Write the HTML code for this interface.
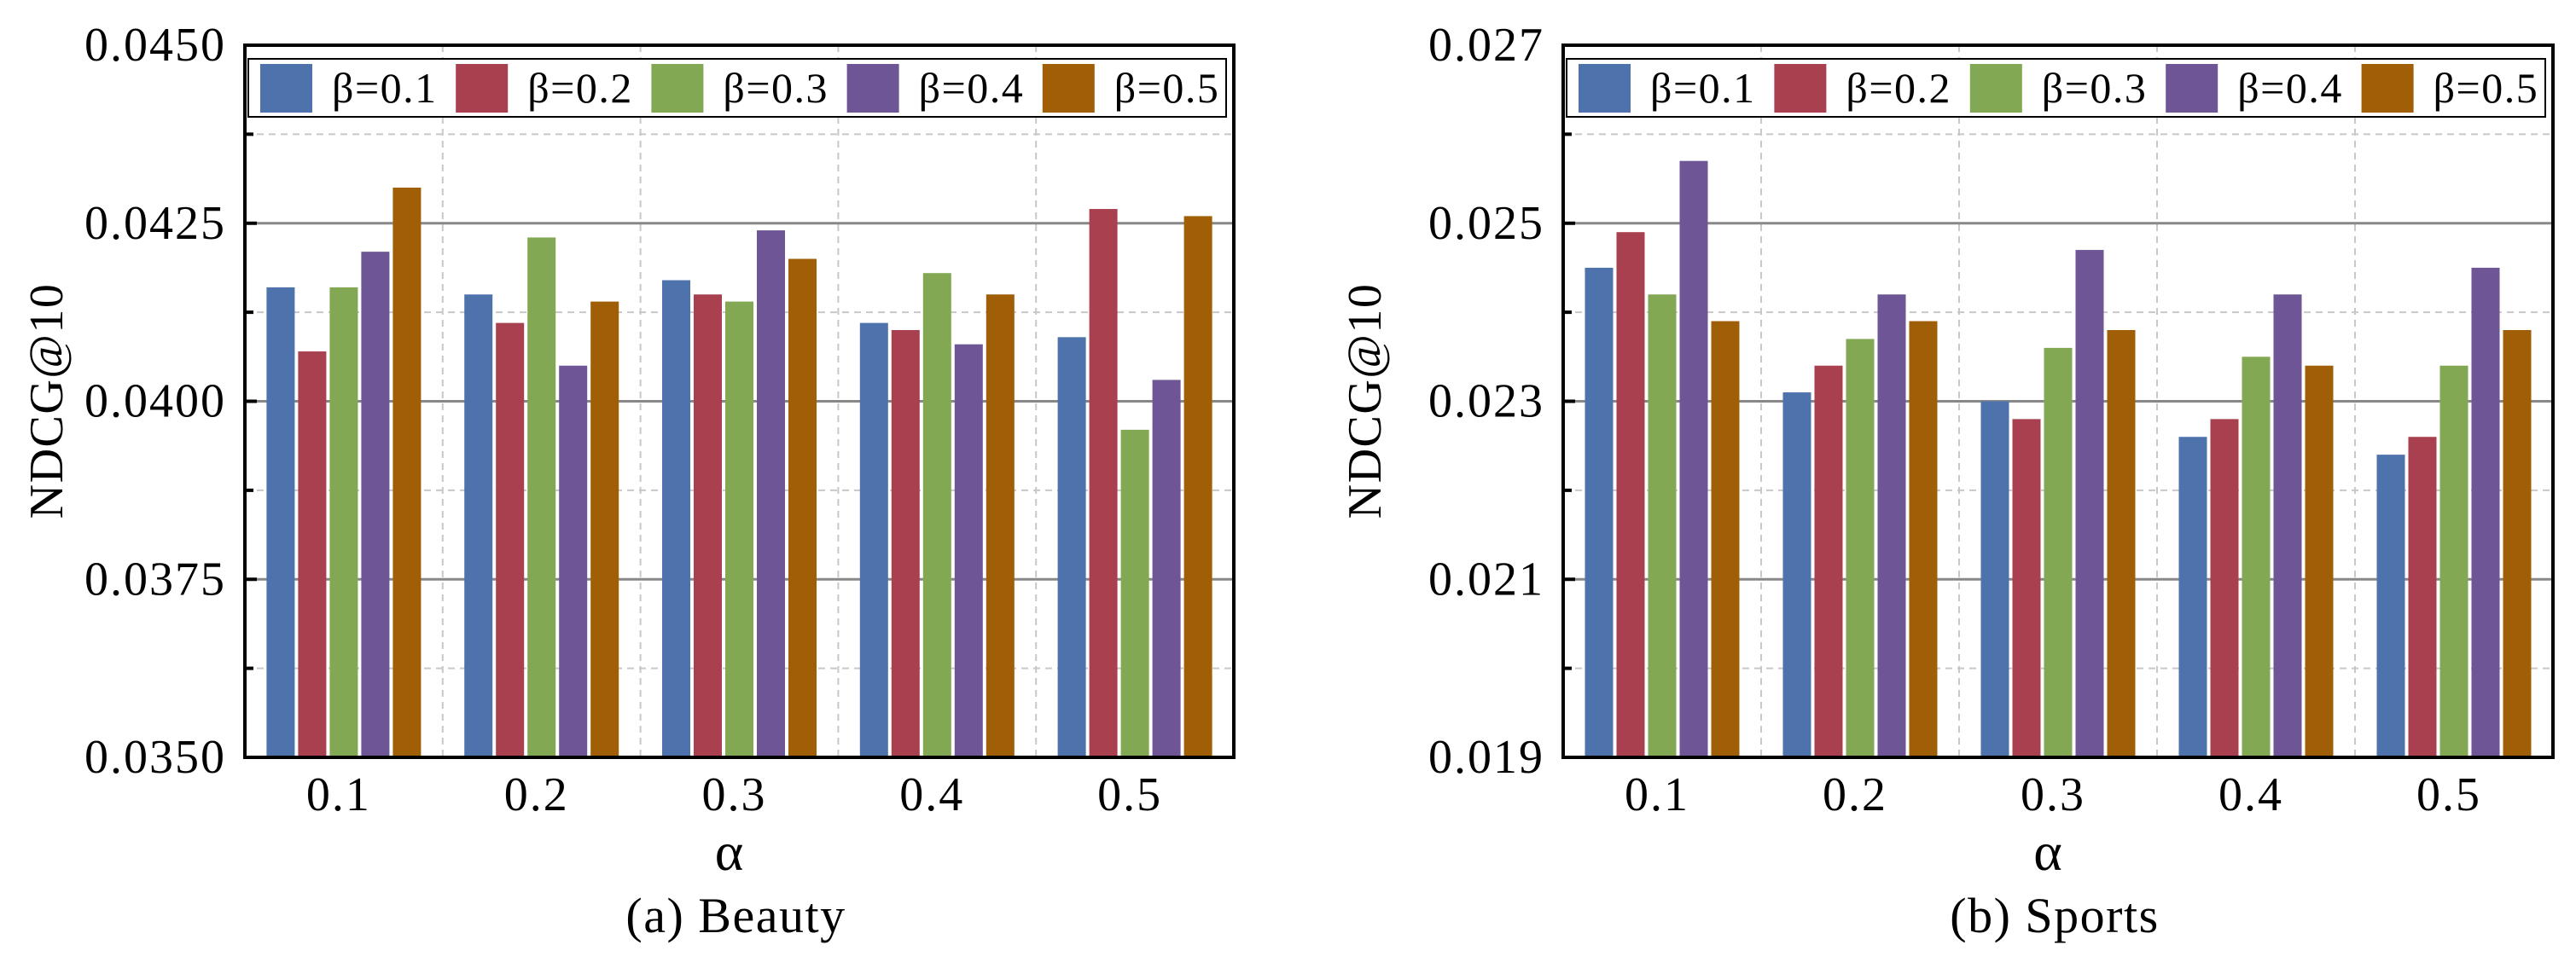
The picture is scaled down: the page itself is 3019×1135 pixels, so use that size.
<!DOCTYPE html>
<html><head><meta charset="utf-8"><style>
html,body{margin:0;padding:0;background:#fff;}
svg{display:block;font-family:"Liberation Serif",serif;}
</style></head><body>
<svg id="root" width="3019" height="1135" viewBox="0 0 3019 1135" xmlns="http://www.w3.org/2000/svg"></svg>
<script>
const categories = ["0.1","0.2","0.3","0.4","0.5"];
const seriesNames = ["β=0.1","β=0.2","β=0.3","β=0.4","β=0.5"];
const beautyB1 = [0.0416,0.0415,0.0417,0.0411,0.0409];
const beautyB2 = [0.0407,0.0411,0.0415,0.0410,0.0427];
const beautyB3 = [0.0416,0.0423,0.0414,0.0418,0.0396];
const beautyB4 = [0.0421,0.0405,0.0424,0.0408,0.0403];
const beautyB5 = [0.0430,0.0414,0.0420,0.0415,0.0426];
const sportsB1 = [0.0245,0.0231,0.0230,0.0226,0.0224];
const sportsB2 = [0.0249,0.0234,0.0228,0.0228,0.0226];
const sportsB3 = [0.0242,0.0237,0.0236,0.0235,0.0234];
const sportsB4 = [0.0257,0.0242,0.0247,0.0242,0.0245];
const sportsB5 = [0.0239,0.0239,0.0238,0.0234,0.0238];
const beautyTicks = ["0.0350","0.0375","0.0400","0.0425","0.0450"];
const sportsTicks = ["0.019","0.021","0.023","0.025","0.027"];
const colors = ["#4e72ab","#a9404f","#82a853","#6e5595","#a05f06"];
const NS="http://www.w3.org/2000/svg";
const root=document.getElementById('root');
function mk(tag,attrs,parent){const e=document.createElementNS(NS,tag);for(const k in attrs)e.setAttribute(k,attrs[k]);(parent||root).appendChild(e);return e;}

function drawChart(cfg){
  const g=mk('g',{});
  
  
  const L=cfg.left,R=cfg.right,T=53,B=888;
  const ymin=parseFloat(cfg.ticks[0]),ymax=parseFloat(cfg.ticks[cfg.ticks.length-1]);
  const y=v=>B-(v-ymin)/(ymax-ymin)*(B-T);
  const gw=(R-L)/categories.length;
  const xc=i=>L+gw*(i+0.5);
  for(let k=0;k<cfg.ticks.length-1;k++){
    const v=(parseFloat(cfg.ticks[k])+parseFloat(cfg.ticks[k+1]))/2;
    const ln=mk('line',{x1:L,x2:R,y1:y(v),y2:y(v),stroke:'#c8c8c8','stroke-width':2,'stroke-dasharray':'8,6'},g);
    
    
    mk('line',{x1:L,x2:L+10,y1:y(v),y2:y(v),stroke:'#000','stroke-width':4},g);
  }
  for(let i=1;i<categories.length;i++){
    const ln=mk('line',{x1:L+gw*i,x2:L+gw*i,y1:T,y2:B,stroke:'#c8c8c8','stroke-width':2,'stroke-dasharray':'8,6'},g);
    
    
  }
  cfg.ticks.forEach((t,k)=>{
    const yy=y(parseFloat(t));
    if(k>0&&k<cfg.ticks.length-1){
      const ln=mk('line',{x1:L,x2:R,y1:yy,y2:yy,stroke:'#888','stroke-width':3},g);
      
      
      mk('line',{x1:L,x2:L+14,y1:yy,y2:yy,stroke:'#000','stroke-width':4},g);
    }
    const tx=mk('text',{x:L-22,y:yy+18,'text-anchor':'end','font-size':56,'letter-spacing':2},g);
    tx.textContent=t;
    
    
  });
  cfg.series.forEach((vals,s)=>{
    vals.forEach((v,i)=>{
      const x0=xc(i)-90.5+37*s;
      const r=mk('rect',{x:x0,y:y(v),width:33,height:B-y(v),fill:colors[s]},g);
      
      
    });
  });
  const fr=mk('rect',{x:L,y:T,width:R-L,height:B-T,fill:'none',stroke:'#000','stroke-width':4},g);
  
  
  categories.forEach((c,i)=>{
    const tx=mk('text',{x:xc(i)-6,y:950,'text-anchor':'middle','font-size':56,'letter-spacing':2},g);
    tx.textContent=c;
    
    
  });
  const xa=mk('text',{x:(L+R)/2-12,y:1020,'text-anchor':'middle','font-size':64},g);
  xa.textContent='α';
  
  
  const ti=mk('text',{x:(L+R)/2-4,y:1093,'text-anchor':'middle','font-size':58,'letter-spacing':1.5},g);
  ti.textContent=cfg.title;
  
  
  const ya=mk('text',{x:0,y:0,'text-anchor':'middle','font-size':56,'letter-spacing':1.5,transform:'translate('+(L-214)+',470) rotate(-90)'},g);
  ya.textContent='NDCG@10';
  
  
  const lg=mk('g',{},g);
  
  
  const lx=L+4,lr=R-9;
  mk('rect',{x:lx,y:69,width:lr-lx,height:68,fill:'#fff',stroke:'#000','stroke-width':2},lg);
  const step=(lr-lx)/5;
  seriesNames.forEach((n,s)=>{
    const px=lx+14+step*s;
    const e=mk('g',{},lg);
    
    
    mk('rect',{x:px,y:75,width:61,height:57,fill:colors[s]},e);
    const t=mk('text',{x:px+84,y:120,'font-size':50,'letter-spacing':1.5},e);
    t.textContent=n;
  });
}
drawChart({name:'beauty-chart',short:'beauty',left:287,right:1446,ticks:beautyTicks,series:[beautyB1,beautyB2,beautyB3,beautyB4,beautyB5],title:'(a) Beauty'});
drawChart({name:'sports-chart',short:'sports',left:1832,right:2992,ticks:sportsTicks,series:[sportsB1,sportsB2,sportsB3,sportsB4,sportsB5],title:'(b) Sports'});
</script>
</body></html>
